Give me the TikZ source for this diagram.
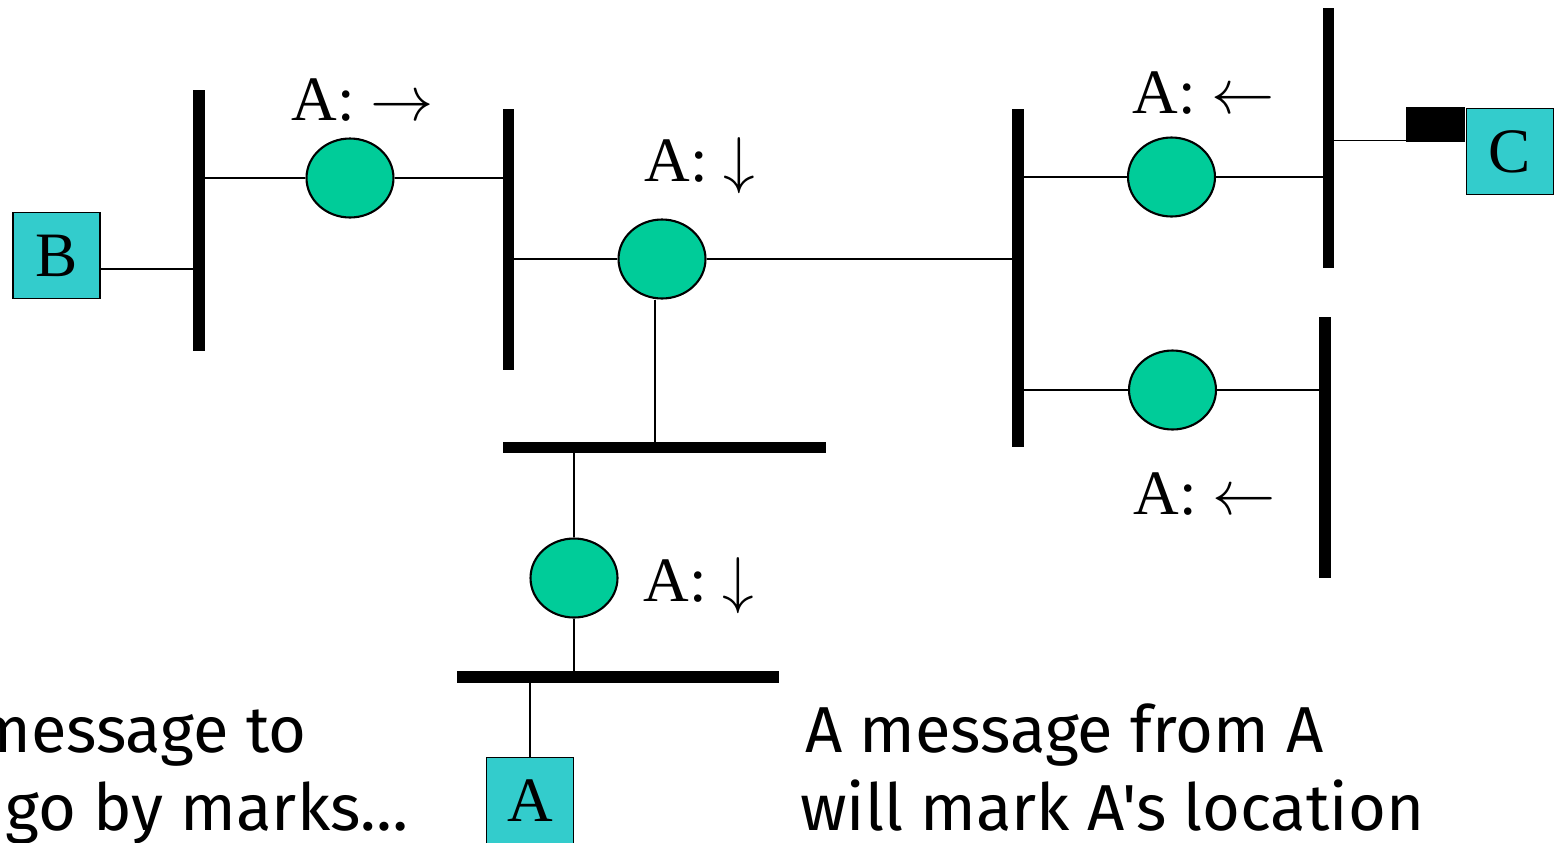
\RequirePackage{fix-cm}
\documentclass[tikz,border=0pt]{standalone}
\usepackage{fontspec}
\setmainfont{Liberation Serif}
\newfontfamily\handfont{Fira Sans}
\usetikzlibrary{shapes.geometric}
\definecolor{bridgegreen}{HTML}{00CC99}
\definecolor{hostcyan}{HTML}{33CCCC}
\tikzset{
  bus/.style={line width=6.5pt},
  link/.style={line width=1.1pt},
  bridge/.style={draw, ellipse, fill=bridgegreen, line width=1.2pt, minimum width=1.74cm, minimum height=1.58cm, inner sep=0pt},
  host/.style={draw, rectangle, fill=hostcyan, line width=1.1pt, minimum width=1.74cm, minimum height=1.72cm, inner sep=0pt, font=\fontsize{36}{40}\selectfont},
  port/.style={fill, rectangle, minimum width=1.18cm, minimum height=0.7cm, inner sep=0pt},
  albl/.style={anchor=base west, inner sep=0pt, font=\fontsize{36}{40}\selectfont},
  note/.style={anchor=base west, inner sep=0pt, font=\handfont\fontsize{37}{40}\selectfont}
}
\begin{document}
\begin{tikzpicture}[x=0.02cm, y=-0.02cm]
\useasboundingbox (0,0) rectangle (1561,842);
% buses
\coordinate (b1t) at (199,90);     \coordinate (b1b) at (199,351);
\coordinate (b2t) at (508.5,109);  \coordinate (b2b) at (508.5,370);
\coordinate (b3t) at (1018,109);   \coordinate (b3b) at (1018,447);
\coordinate (b4l) at (503,447.5);  \coordinate (b4r) at (826,447.5);
\coordinate (b5l) at (457,677);    \coordinate (b5r) at (779,677);
\coordinate (b6t) at (1328.5,8);   \coordinate (b6b) at (1328.5,268);
\coordinate (b7t) at (1325,317);   \coordinate (b7b) at (1325,578);
\draw[bus] (b1t) -- (b1b);
\draw[bus] (b2t) -- (b2b);
\draw[bus] (b3t) -- (b3b);
\draw[bus] (b4l) -- (b4r);
\draw[bus] (b5l) -- (b5r);
\draw[bus] (b6t) -- (b6b);
\draw[bus] (b7t) -- (b7b);
% hosts and bridges
\node[host] (B) at (56.5,255.5) {B};
\node[host] (A) at (530,800.5) {A};
\node[host] (C) at (1510,151.5) {C};
\node[port] (Cp) at (1435.5,124.5) {};
\node[bridge] (br1) at (350,178) {};
\node[bridge] (br2) at (662,259) {};
\node[bridge] (br3) at (574,578) {};
\node[bridge] (br4) at (1171.5,177) {};
\node[bridge] (br5) at (1172.5,390) {};
\coordinate (jB) at (199,269);
\coordinate (j2) at (655,447.5);
\coordinate (jC) at (1328.5,140.5);
% links
\draw[link] (B.east |- jB) -- (jB);
\draw[link] (b1t |- br1) -- (br1) -- (br1 -| b2t);
\draw[link] (b2t |- br2) -- (br2) -- (br2 -| b3t);
\draw[link] (br2.south -| j2) -- (j2);
\draw[link] (br3 |- b4l) -- (br3) -- (br3 |- b5l);
\draw[link] (A) -- (A |- b5l);
\draw[link] (b3t |- br4) -- (br4) -- (br4 -| b6t);
\draw[link] (b3t |- br5) -- (br5) -- (br5 -| b7t);
\draw[link] (jC) -- (jC -| Cp.west);
% table entries
\node[albl] (l1) at (291,120) {A: $\rightarrow$};
\node[albl] (l2) at (644,181) {A: $\downarrow$};
\node[albl] (l3) at (1132,113) {A: $\leftarrow$};
\node[albl] (l4) at (643,601) {A: $\downarrow$};
\node[albl] (l5) at (1133,514) {A: $\leftarrow$};
% notes
\node[note] (n1) at (-25,752) {message to};
\node[note] (n2) at (5,830) {go by marks…};
\node[note] (n3) at (805,752) {A message from A};
\node[note] (n4) at (800,830) {will mark A's location};
\end{tikzpicture}
\end{document}
